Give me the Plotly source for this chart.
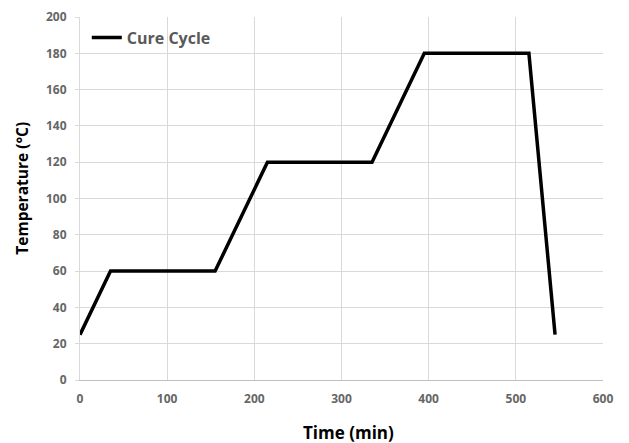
import plotly.graph_objects as go

# Cure cycle profile
time_min = [0, 35, 155, 215, 335, 395, 515, 545]
temperature_c = [25, 60, 60, 120, 120, 180, 180, 25]
x_ticks = [0, 100, 200, 300, 400, 500, 600]
y_ticks = [0, 20, 40, 60, 80, 100, 120, 140, 160, 180, 200]

fig = go.Figure()

fig.add_trace(go.Scatter(
    x=time_min,
    y=temperature_c,
    mode='lines',
    name='<b>Cure Cycle</b>',
    line=dict(color='black', width=3.5),
))

# axis titles as annotations so they sit where the original has them
fig.add_annotation(text='<b>Time (min)</b>', xref='paper', yref='paper',
                   x=0.514, y=0, yanchor='middle', yshift=-52, showarrow=False,
                   font=dict(size=17, color='black'))
fig.add_annotation(text='<b>Temperature (°C)</b>', xref='paper', yref='paper',
                   x=0, y=0.527, xanchor='center', xshift=-58, textangle=-90,
                   showarrow=False, font=dict(size=15.5, color='black'))

# page body adds an 8px offset, so margins are shifted to compensate
fig.update_layout(
    width=629,
    height=443,
    margin=dict(l=72, r=34, t=9, b=71),
    plot_bgcolor='white',
    paper_bgcolor='white',
    font=dict(family='Open Sans, Liberation Sans, sans-serif', color='#595959', size=12),
    showlegend=True,
    legend=dict(
        x=0.013, y=0.99, xanchor='left', yanchor='top',
        bgcolor='rgba(0,0,0,0)',
        font=dict(size=16, color='#595959'),
        itemwidth=30,
    ),
    xaxis=dict(
        range=[0, 600],
        tickvals=x_ticks,
        tickfont=dict(size=12, color='#666666', weight='bold'),
        showgrid=True,
        gridcolor='#d9d9d9',
        gridwidth=1,
        showline=True,
        linecolor='#bfbfbf',
        zeroline=False,
        ticks='',
        ticklabelstandoff=8,
        ticklabeloverflow='allow',
        automargin=False,
    ),
    yaxis=dict(
        range=[0, 200],
        tickvals=y_ticks,
        tickfont=dict(size=12, color='#666666', weight='bold'),
        showgrid=True,
        gridcolor='#d9d9d9',
        gridwidth=1,
        showline=True,
        linecolor='#d9d9d9',
        zeroline=False,
        ticks='outside',
        ticklen=4,
        tickcolor='#d9d9d9',
        ticklabelstandoff=6,
        ticklabeloverflow='allow',
        automargin=False,
    ),
)

fig.write_html("out.html")
